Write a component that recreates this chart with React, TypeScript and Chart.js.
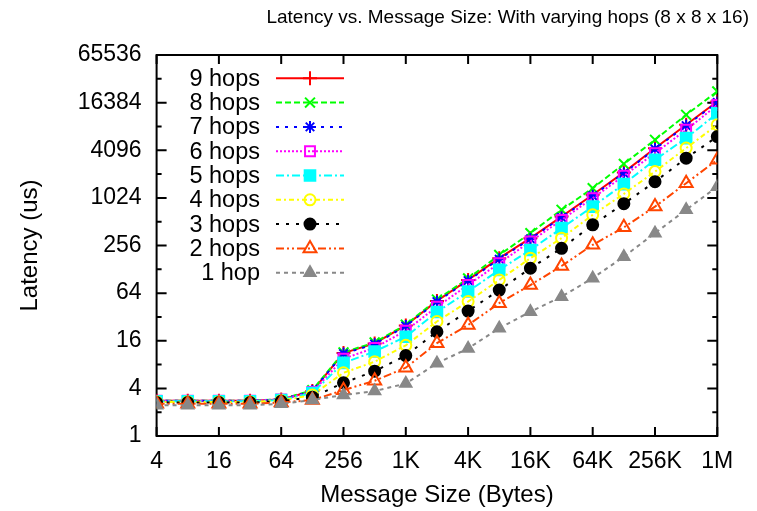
import React, { useEffect, useRef } from "react";
import { Chart, registerables } from "chart.js";
import { drawPoint } from "chart.js/helpers";

Chart.register(...registerables);

const sizes = [4, 8, 16, 32, 64, 128, 256, 512, 1024, 2048, 4096, 8192, 16384, 32768, 65536, 131072, 262144, 524288, 1048576];
const xTickValues = [4, 16, 64, 256, 1024, 4096, 16384, 65536, 262144, 1048576];
const xTickLabels = ["4", "16", "64", "256", "1K", "4K", "16K", "64K", "256K", "1M"];
const yTickValues = [1, 4, 16, 64, 256, 1024, 4096, 16384, 65536];
const yTickLabels = ["1", "4", "16", "64", "256", "1024", "4096", "16384", "65536"];

const hops9 = [2.8, 2.8, 2.8, 2.8, 2.9, 3.7, 11.2, 14.8, 25, 51, 94, 177, 317, 594, 1120, 2150, 4350, 8600, 16900];
const hops8 = [2.8, 2.8, 2.8, 2.8, 2.9, 3.8, 11.4, 15.2, 25.5, 53, 98, 194, 367, 724, 1355, 2750, 5550, 11500, 22700];
const hops7 = [2.8, 2.8, 2.8, 2.8, 2.9, 3.7, 11.0, 14.5, 24.5, 50, 92, 172, 310, 580, 1090, 2100, 4250, 8400, 16500];
const hops6 = [2.8, 2.8, 2.8, 2.8, 2.9, 3.6, 9.5, 13, 21.5, 43, 81, 153, 287, 540, 1015, 1950, 3770, 7430, 15300];
const hops5 = [2.75, 2.75, 2.75, 2.75, 2.85, 3.5, 8.4, 11.7, 18, 37, 67, 126, 225, 424, 794, 1530, 3100, 5830, 12000];
const hops4 = [2.7, 2.7, 2.7, 2.7, 2.8, 3.3, 6.3, 8.7, 14, 28, 50, 94, 177, 317, 625, 1150, 2200, 4360, 8600];
const hops3 = [2.65, 2.65, 2.65, 2.65, 2.75, 3.1, 4.7, 6.6, 10.4, 20.8, 38, 70, 132, 236, 467, 865, 1640, 3250, 6100];
const hops2 = [2.55, 2.55, 2.55, 2.55, 2.65, 2.85, 3.8, 5.0, 7.3, 14.9, 25.3, 47.8, 81, 141, 261, 434, 794, 1570, 3100];
const hops1 = [2.45, 2.45, 2.45, 2.45, 2.55, 2.85, 3.3, 3.7, 4.6, 8.3, 12.8, 23, 37.3, 57.7, 99, 185, 367, 724, 1420];

const seriesLabels = ["9 hops", "8 hops", "7 hops", "6 hops", "5 hops", "4 hops", "3 hops", "2 hops", "1 hop"];
const seriesValues = [hops9, hops8, hops7, hops6, hops5, hops4, hops3, hops2, hops1];

type Style = { color: string; dash: number[]; point: string; filled: boolean; radius: number };
const styles: Style[] = [
  { color: "#ff0000", dash: [], point: "cross", filled: false, radius: 7 },
  { color: "#00ff00", dash: [6, 3], point: "crossRot", filled: false, radius: 7 },
  { color: "#0000ff", dash: [3, 6], point: "star", filled: false, radius: 6 },
  { color: "#ff00ff", dash: [2, 2], point: "rect", filled: false, radius: 7 },
  { color: "#00ffff", dash: [8, 3, 2, 3], point: "rect", filled: true, radius: 7.5 },
  { color: "#ffff00", dash: [5, 3, 2, 3], point: "circle", filled: false, radius: 5.5 },
  { color: "#000000", dash: [3, 7], point: "circle", filled: true, radius: 5.5 },
  { color: "#ff4500", dash: [8, 3, 2, 3, 2, 3], point: "triangle", filled: false, radius: 7.5 },
  { color: "#888888", dash: [4, 4], point: "triangle", filled: true, radius: 6.5 },
];

const FONT = '"Liberation Sans", Arial, sans-serif';

const framePlugin = {
  id: "gnuFrame",
  beforeDatasetsDraw(chart: any) {
    const { ctx, chartArea: a, scales } = chart;
    ctx.save();
    ctx.strokeStyle = "#000";
    ctx.lineWidth = 2;
    ctx.setLineDash([]);
    ctx.beginPath();
    for (const v of xTickValues) {
      const px = scales.x.getPixelForValue(v);
      ctx.moveTo(px, a.bottom);
      ctx.lineTo(px, a.bottom - 9);
      ctx.moveTo(px, a.top);
      ctx.lineTo(px, a.top + 9);
    }
    for (let e = 0; e <= 16; e++) {
      const py = scales.y.getPixelForValue(Math.pow(2, e));
      const len = e % 2 === 0 ? 10 : 5;
      ctx.moveTo(a.left, py);
      ctx.lineTo(a.left + len, py);
      ctx.moveTo(a.right, py);
      ctx.lineTo(a.right - len, py);
    }
    ctx.stroke();
    ctx.strokeRect(a.left, a.top, a.right - a.left, a.bottom - a.top);
    ctx.restore();
  },
  afterDraw(chart: any) {
    const { ctx } = chart;
    ctx.save();
    ctx.fillStyle = "#000";
    ctx.font = `19px ${FONT}`;
    ctx.textAlign = "right";
    ctx.textBaseline = "middle";
    ctx.fillText("Latency vs. Message Size: With varying hops (8 x 8 x 16)", 749, 18);

    ctx.font = `23.5px ${FONT}`;
    for (let i = 0; i < seriesLabels.length; i++) {
      const y = 78.3 + i * 24.3;
      const st = styles[i];
      ctx.fillStyle = "#000";
      ctx.textAlign = "right";
      ctx.textBaseline = "middle";
      ctx.fillText(seriesLabels[i], 260, y + 1);
      ctx.strokeStyle = st.color;
      ctx.lineWidth = 2;
      ctx.setLineDash(st.dash);
      ctx.beginPath();
      ctx.moveTo(276, y);
      ctx.lineTo(344, y);
      ctx.stroke();
      ctx.setLineDash([]);
      ctx.fillStyle = st.filled ? st.color : "rgba(0,0,0,0)";
      drawPoint(ctx, { pointStyle: st.point, radius: st.radius, rotation: 0, borderWidth: 2 } as any, 310, y);
    }
    ctx.restore();
  },
};

export default function App() {
  const ref = useRef<HTMLCanvasElement | null>(null);
  useEffect(() => {
    if (!ref.current) return;
    const datasets = seriesLabels.map((label, i) => {
      const st = styles[i];
      return {
        label,
        data: sizes.map((s, j) => ({ x: s, y: seriesValues[i][j] })),
        borderColor: st.color,
        backgroundColor: st.filled ? st.color : "rgba(0,0,0,0)",
        pointBorderColor: st.color,
        pointBackgroundColor: st.filled ? st.color : "rgba(0,0,0,0)",
        borderWidth: 2,
        borderDash: st.dash,
        pointStyle: st.point,
        pointRadius: st.radius,
        pointBorderWidth: 2,
        tension: 0,
        order: seriesLabels.length - i,
      };
    });
    const chart = new Chart(ref.current, {
      type: "line",
      data: { datasets },
      plugins: [framePlugin],
      options: {
        animation: false,
        responsive: true,
        maintainAspectRatio: false,
        layout: { padding: { top: 55, right: 39.7, left: 0, bottom: 0 } },
        plugins: { legend: { display: false }, tooltip: { enabled: false }, title: { display: false } },
        scales: {
          x: {
            type: "logarithmic",
            min: 4,
            max: 1048576,
            grid: { display: false, drawTicks: false },
            border: { display: false },
            afterBuildTicks: (scale: any) => {
              scale.ticks = xTickValues.map((v) => ({ value: v }));
            },
            afterFit: (scale: any) => {
              scale.height = 75;
            },
            ticks: {
              autoSkip: false,
              maxRotation: 0,
              padding: 12,
              color: "#000",
              font: { family: FONT, size: 23 },
              callback: (_v: any, idx: number) => xTickLabels[idx],
            },
            title: {
              display: true,
              text: "Message Size (Bytes)",
              color: "#000",
              font: { family: FONT, size: 24 },
              padding: { top: 0, bottom: 1 },
            },
          },
          y: {
            type: "logarithmic",
            min: 1,
            max: 65536,
            grid: { display: false, drawTicks: false },
            border: { display: false },
            afterBuildTicks: (scale: any) => {
              scale.ticks = yTickValues.map((v) => ({ value: v }));
            },
            afterFit: (scale: any) => {
              scale.width = 156.6;
            },
            ticks: {
              autoSkip: false,
              padding: 15,
              color: "#000",
              font: { family: FONT, size: 23 },
              callback: (_v: any, idx: number) => yTickLabels[idx],
            },
            title: {
              display: true,
              text: "Latency (us)",
              color: "#000",
              font: { family: FONT, size: 24 },
              padding: { top: 15.5, bottom: 0 },
            },
          },
        },
      } as any,
    });
    return () => chart.destroy();
  }, []);
  return (
    <div style={{ position: "fixed", left: 0, top: 0, width: 757, height: 511, background: "#fff" }}>
      <canvas ref={ref} />
    </div>
  );
}
